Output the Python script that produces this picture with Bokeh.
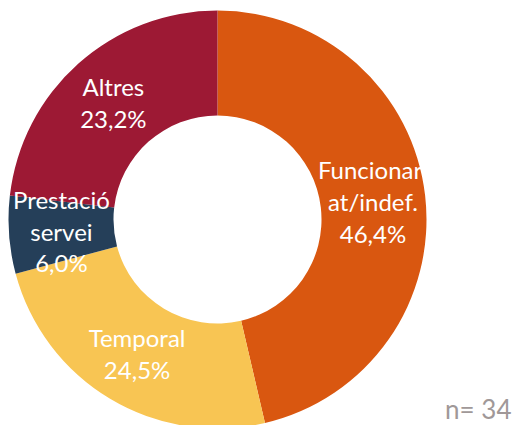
import math
from bokeh.plotting import figure
from bokeh.models import ColumnDataSource, Range1d
from bokeh.core.properties import value
from bokeh.embed import file_html
from bokeh.resources import INLINE

# ---- data ----
categories = ["Funcionari\nat/indef.", "Temporal", "Prestació\nservei", "Altres"]
shares = [46.4, 24.5, 6.0, 23.2]
colors = ["#D95710", "#F8C553", "#253F59", "#9D1934"]
n_total = 34

R_OUT = 209
R_IN = 104

total = sum(shares)
starts, ends, lx, ly, labels = [], [], [], [], []
cum = 0.0
for cat, s in zip(categories, shares):
    a0 = math.pi / 2 - 2 * math.pi * cum / total
    cum += s
    a1 = math.pi / 2 - 2 * math.pi * cum / total
    starts.append(a0)
    ends.append(a1)
    mid = (a0 + a1) / 2
    rm = (R_OUT + R_IN) / 2
    lx.append(rm * math.cos(mid))
    ly.append(rm * math.sin(mid))
    labels.append(cat + "\n" + f"{s:.1f}".replace(".", ",") + "%")

src = ColumnDataSource(dict(start=starts, end=ends, color=colors, x=lx, y=ly, label=labels))

p = figure(width=515, height=425, output_backend="svg", toolbar_location=None,
           x_range=Range1d(-217, 298), y_range=Range1d(-206, 219),
           min_border=0, outline_line_color=None)
p.axis.visible = False
p.grid.visible = False
p.background_fill_color = "white"
p.border_fill_color = "white"

p.annular_wedge(x=0, y=0, inner_radius=R_IN, outer_radius=R_OUT,
                start_angle="start", end_angle="end", direction="clock",
                fill_color="color", line_color=None, source=src)

p.text(x="x", y="y", text="label", source=src, text_color="white",
       text_font=value("Lato"), text_font_size="24px", text_align="center",
       text_baseline="middle", text_line_height=1.1)

p.text(x=[294], y=[-189], text=[f"n= {n_total}"], text_color="#A09898",
       text_font=value("Lato"), text_font_size="26px", text_align="right",
       text_baseline="alphabetic")

open("out.html", "w").write(file_html(p, INLINE))
